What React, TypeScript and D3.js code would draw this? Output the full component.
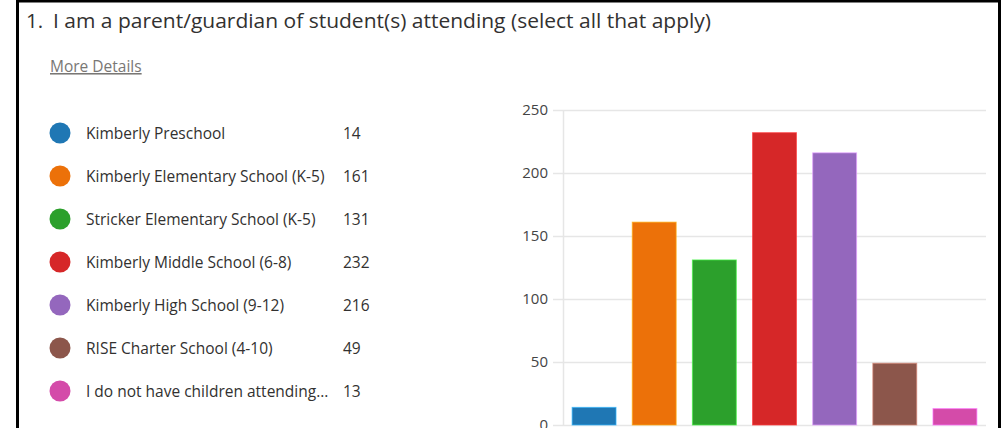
import { useRef, useEffect } from "react";
import * as d3 from "d3";

const categories = [
  "Kimberly Preschool",
  "Kimberly Elementary School (K-5)",
  "Stricker Elementary School (K-5)",
  "Kimberly Middle School (6-8)",
  "Kimberly High School (9-12)",
  "RISE Charter School (4-10)",
  "I do not have children attending...",
];
const counts = [14, 161, 131, 232, 216, 49, 13];
const colors = ["#1f77b4", "#ec7109", "#2ca02c", "#d62728", "#9467bd", "#8c564b", "#d44ba9"];
const yTicks = [0, 50, 100, 150, 200, 250];

const W = 1005;
const H = 428;
const FONT = "'Open Sans', 'Noto Sans', sans-serif";

export default function App() {
  const svgRef = useRef<SVGSVGElement>(null);

  useEffect(() => {
    if (!svgRef.current) return;
    const svg = d3.select(svgRef.current);
    svg.selectAll("*").remove();

    svg.append("rect").attr("width", W).attr("height", H).attr("fill", "#fff");

    // frame
    svg.append("path")
      .attr("d", `M17.5,${H} V1 H999.5 V${H}`)
      .attr("fill", "none").attr("stroke", "#000").attr("stroke-width", 3);

    svg.append("text").attr("x", 26).attr("y", 28)
      .attr("font-family", FONT).attr("font-size", 20.5).attr("fill", "#323130")
      .text("1.");
    svg.append("text").attr("x", 53).attr("y", 28)
      .attr("font-family", FONT).attr("font-size", 20.5).attr("fill", "#323130")
      .attr("textLength", 658).attr("lengthAdjust", "spacingAndGlyphs")
      .text("I am a parent/guardian of student(s) attending (select all that apply)");

    svg.append("text").attr("x", 50).attr("y", 72)
      .attr("font-family", FONT).attr("font-size", 15.5).attr("fill", "#797775")
      .attr("text-decoration", "underline")
      .text("More Details");

    // legend
    const rowY = d3.scalePoint<string>().domain(categories).range([133, 391]);
    const legend = svg.append("g");
    categories.forEach((c, i) => {
      const y = rowY(c)!;
      legend.append("circle").attr("cx", 60).attr("cy", y).attr("r", 10.5).attr("fill", colors[i]);
      legend.append("text").attr("x", 86).attr("y", y).attr("dy", "0.36em")
        .attr("font-family", FONT).attr("font-size", 15.5).attr("fill", "#323130").text(c);
      legend.append("text").attr("x", 343).attr("y", y).attr("dy", "0.36em")
        .attr("font-family", FONT).attr("font-size", 15.5).attr("fill", "#323130").text(counts[i]);
    });

    // chart
    const x = d3.scaleBand<string>().domain(categories).range([564, 985])
      .paddingInner(0.27).paddingOuter(0.135);
    const y = d3.scaleLinear().domain([0, 250]).range([425, 110]);

    const g = svg.append("g");
    yTicks.forEach((t) => {
      g.append("line").attr("x1", 553).attr("x2", 986)
        .attr("y1", Math.round(y(t)) + 0.5).attr("y2", Math.round(y(t)) + 0.5)
        .attr("stroke", "#e6e6e6").attr("stroke-width", 1.5);
      g.append("text").attr("x", 548).attr("y", y(t)).attr("dy", "0.34em")
        .attr("text-anchor", "end").attr("font-family", FONT).attr("font-size", 15)
        .attr("fill", "#444").text(t);
    });
    g.append("line").attr("x1", 563.5).attr("x2", 563.5).attr("y1", y(250)).attr("y2", y(0))
      .attr("stroke", "#e6e6e6").attr("stroke-width", 1.5);

    categories.forEach((c, i) => {
      const top = y(counts[i]);
      g.append("rect").attr("x", x(c)!).attr("y", top)
        .attr("width", x.bandwidth()).attr("height", y(0) - top)
        .attr("fill", colors[i])
        .attr("stroke", d3.color(colors[i])!.brighter(1.2).formatHex())
        .attr("stroke-opacity", 0.7).attr("stroke-width", 1);
    });
  }, []);

  return (
    <svg ref={svgRef} width={W} height={H}
      style={{ position: "fixed", left: 0, top: 0, display: "block" }} />
  );
}
